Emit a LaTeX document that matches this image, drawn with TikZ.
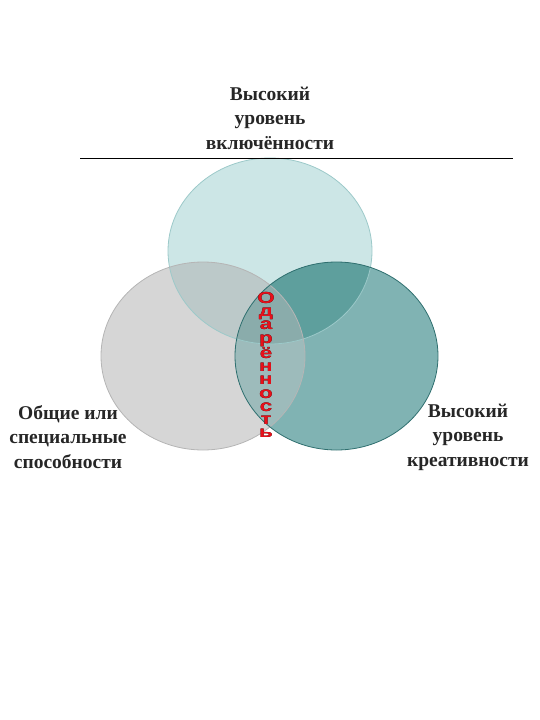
\documentclass[tikz,border=0pt]{standalone}
\usepackage{fontspec}
\usepackage[outline]{contour}
\setmainfont{Liberation Serif}
\newfontfamily\odfont[FakeStretch=1.4]{Liberation Sans}
\contourlength{0.6pt}

\definecolor{topfill}{HTML}{CCE6E6}
\definecolor{leftfill}{HTML}{D6D6D6}
\definecolor{rightfill}{HTML}{80B3B3}
\definecolor{tlfill}{HTML}{BCC9C9}
\definecolor{trfill}{HTML}{5E9F9D}
\definecolor{lrfill}{HTML}{9DBBBB}
\definecolor{allfill}{HTML}{8AACAB}
\definecolor{topline}{HTML}{9CC9C9}
\definecolor{leftline}{HTML}{B5B5B5}
\definecolor{rightline}{HTML}{2F6F6F}
\definecolor{labeltext}{HTML}{262626}
\definecolor{odred}{HTML}{E8101A}

\newcommand\topring{(270,251) ellipse [x radius=102, y radius=93]}
\newcommand\leftring{(203,356) ellipse [x radius=102, y radius=94]}
\newcommand\rightring{(336.5,356) ellipse [x radius=101.5, y radius=94]}

\begin{document}
\begin{tikzpicture}[x=1pt,y=-1pt,
    label/.style={align=center,font=\fontsize{19.5}{24.5}\selectfont\bfseries,text=labeltext}]
        \useasboundingbox (0,0) rectangle (540,720);

        % circles
        \fill[topfill] \topring;
        \fill[leftfill] \leftring;
        \fill[rightfill] \rightring;
        \begin{scope}
          \clip \topring;
          \fill[tlfill] \leftring;
          \fill[trfill] \rightring;
        \end{scope}
        \begin{scope}
          \clip \leftring;
          \fill[lrfill] \rightring;
          \clip \topring;
          \fill[allfill] \rightring;
        \end{scope}
        \draw[topline,line width=0.8pt] \topring;
        \draw[leftline,line width=0.8pt] \leftring;
        \draw[rightline,line width=0.8pt] \rightring;

        \draw[black,line width=0.8pt] (80,158) -- (513,158);

        % labels
        \node[label] (vkl) at (270,118) {Высокий\\уровень\\включённости};
        \node[label] (spos) at (68,437) {Общие или\\специальные\\способности};
        \node[label] (kreat) at (468,437) {Высокий\\уровень\\креативности};

        \node[align=center,font=\odfont\fontsize{16}{13.2}\selectfont\bfseries,text=odred] (odar) at (266,365)
          {\contour{black}{О}\\\contour{black}{д}\\\contour{black}{а}\\\contour{black}{р}\\\contour{black}{ё}\\\contour{black}{н}\\\contour{black}{н}\\\contour{black}{о}\\\contour{black}{с}\\\contour{black}{т}\\\contour{black}{ь}};
      \end{tikzpicture}
\end{document}
